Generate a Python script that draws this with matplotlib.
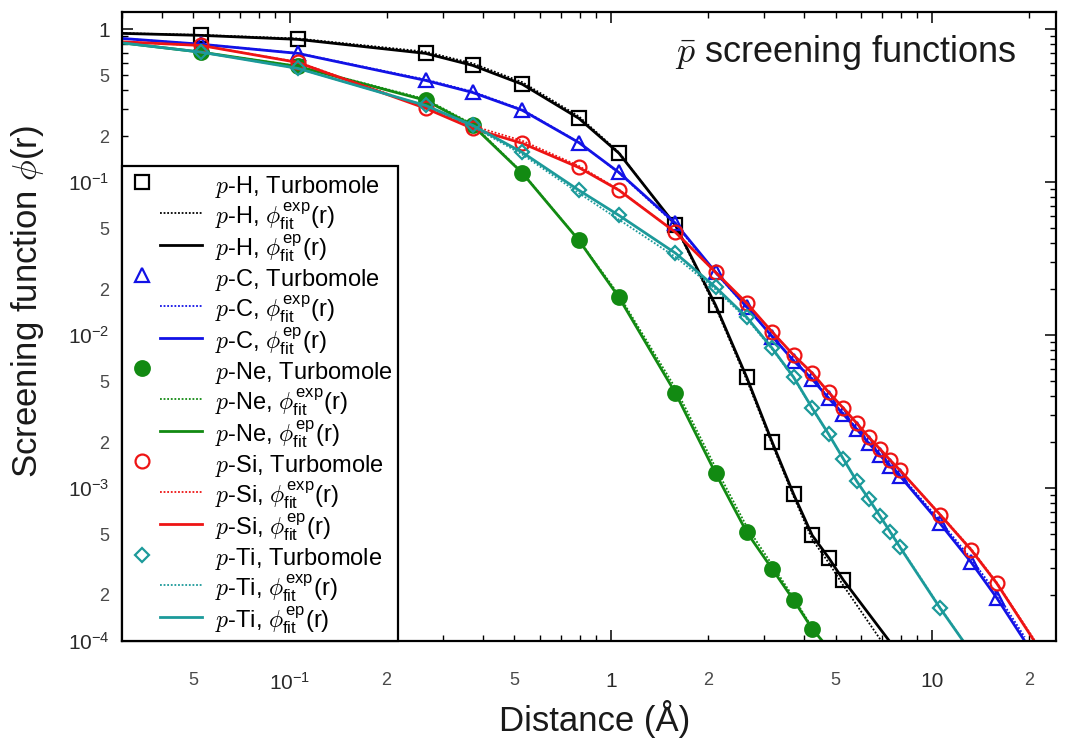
import numpy as np
import matplotlib
matplotlib.use('Agg')
import matplotlib.pyplot as plt
from matplotlib.lines import Line2D
from matplotlib.legend_handler import HandlerLine2D
from matplotlib.ticker import LogLocator, FuncFormatter

plt.rcParams['font.family'] = 'Liberation Sans'
plt.rcParams['mathtext.fontset'] = 'cm'

BOHR = 0.529177  # distances below are in bohr, plotted in Angstrom

# p-H
r_H = [0.1, 0.2, 0.5, 0.7, 1, 1.5, 2, 3, 4, 5, 6, 7, 8, 9, 10]
tm_H = [0.914, 0.861, 0.697, 0.582, 0.438, 0.262, 0.155, 0.0524, 0.0157,
        5.3e-3, 2.0e-3, 9.1e-4, 4.9e-4, 3.5e-4, 2.5e-4]
fit_r_H = [0.0567, 0.1, 0.2, 0.5, 0.7, 1, 1.5, 2, 3, 4, 5, 6, 7, 8, 9, 10, 13.9]
ep_H = [0.942, 0.914, 0.861, 0.697, 0.582, 0.438, 0.262, 0.155, 0.0524, 0.0157,
        5.3e-3, 2.0e-3, 9.1e-4, 4.9e-4, 3.5e-4, 2.5e-4, 1.0e-4]
exp_H = [0.945, 0.92, 0.872, 0.715, 0.60, 0.452, 0.27, 0.157, 0.0515, 0.0152,
         5.1e-3, 1.93e-3, 8.8e-4, 4.6e-4, 3.25e-4, 2.3e-4, 8.4e-5]

# p-C
r_C = [0.1, 0.2, 0.5, 0.7, 1, 1.5, 2, 3, 4, 5, 6, 7, 8, 9, 10, 11, 12, 13, 14, 15,
       20, 25, 30]
tm_C = [0.80, 0.697, 0.464, 0.387, 0.296, 0.182, 0.116, 0.054, 0.0258, 0.0153,
        9.8e-3, 6.8e-3, 5.15e-3, 3.86e-3, 3.04e-3, 2.43e-3, 1.96e-3, 1.64e-3,
        1.39e-3, 1.20e-3, 5.87e-4, 3.27e-4, 1.92e-4]
fit_r_C = [0.0567] + r_C + [36.7]
ep_C = [0.873, 0.80, 0.697, 0.464, 0.387, 0.296, 0.182, 0.116, 0.054, 0.0258,
        0.0153, 9.8e-3, 6.8e-3, 5.15e-3, 3.86e-3, 3.04e-3, 2.43e-3, 1.96e-3,
        1.64e-3, 1.39e-3, 1.20e-3, 5.87e-4, 3.27e-4, 1.92e-4, 1.0e-4]
exp_C = [0.873, 0.80, 0.70, 0.47, 0.392, 0.299, 0.183, 0.115, 0.053, 0.0255,
         0.0152, 9.8e-3, 6.85e-3, 5.2e-3, 3.9e-3, 3.08e-3, 2.47e-3, 2.0e-3,
         1.67e-3, 1.42e-3, 1.23e-3, 6.1e-4, 3.45e-4, 2.05e-4, 1.06e-4]

# p-Ne
r_Ne = [0.1, 0.2, 0.5, 0.7, 1, 1.5, 2, 3, 4, 5, 6, 7, 8]
tm_Ne = [0.71, 0.573, 0.344, 0.236, 0.115, 0.0418, 0.0177, 4.18e-3, 1.25e-3,
         5.15e-4, 2.96e-4, 1.85e-4, 1.2e-4]
fit_r_Ne = [0.0567] + r_Ne + [8.6]
ep_Ne = [0.817, 0.71, 0.573, 0.344, 0.236, 0.115, 0.0418, 0.0177, 4.18e-3,
         1.25e-3, 5.15e-4, 2.96e-4, 1.85e-4, 1.2e-4, 1.0e-4]
exp_Ne = [0.817, 0.71, 0.575, 0.35, 0.24, 0.116, 0.042, 0.0183, 4.5e-3,
          1.36e-3, 5.6e-4, 3.15e-4, 1.92e-4, 1.22e-4, 1.0e-4]

# p-Si
r_Si = r_C
tm_Si = [0.785, 0.608, 0.305, 0.225, 0.180, 0.125, 0.0888, 0.0471, 0.0258,
         0.0162, 0.0105, 7.4e-3, 5.65e-3, 4.23e-3, 3.33e-3, 2.66e-3, 2.15e-3,
         1.80e-3, 1.52e-3, 1.31e-3, 6.7e-4, 3.94e-4, 2.39e-4]
fit_r_Si = [0.0567] + r_Si + [39.3]
ep_Si = [0.83, 0.785, 0.608, 0.305, 0.225, 0.180, 0.125, 0.0888, 0.0471, 0.0258,
         0.0162, 0.0105, 7.4e-3, 5.65e-3, 4.23e-3, 3.33e-3, 2.66e-3, 2.15e-3,
         1.80e-3, 1.52e-3, 1.31e-3, 6.7e-4, 3.94e-4, 2.39e-4, 1.0e-4]
exp_Si = [0.83, 0.785, 0.612, 0.31, 0.234, 0.187, 0.128, 0.0895, 0.047, 0.0257,
          0.0161, 0.0105, 7.4e-3, 5.6e-3, 4.2e-3, 3.32e-3, 2.65e-3, 2.15e-3,
          1.80e-3, 1.52e-3, 1.31e-3, 6.75e-4, 4.0e-4, 2.42e-4, 1.02e-4]

# p-Ti
r_Ti = [0.1, 0.2, 0.5, 0.7, 1, 1.5, 2, 3, 4, 5, 6, 7, 8, 9, 10, 11, 12, 13, 14,
        15, 20]
tm_Ti = [0.71, 0.556, 0.318, 0.236, 0.157, 0.0888, 0.0608, 0.0344, 0.0206,
         0.0131, 8.22e-3, 5.31e-3, 3.33e-3, 2.25e-3, 1.55e-3, 1.11e-3, 8.47e-4,
         6.56e-4, 5.15e-4, 4.11e-4, 1.64e-4]
fit_r_Ti = [0.0567] + r_Ti + [23.6]
ep_Ti = [0.817, 0.71, 0.556, 0.318, 0.236, 0.157, 0.0888, 0.0608, 0.0344, 0.0206,
         0.0131, 8.22e-3, 5.31e-3, 3.33e-3, 2.25e-3, 1.55e-3, 1.11e-3, 8.47e-4,
         6.56e-4, 5.15e-4, 4.11e-4, 1.64e-4, 1.0e-4]
exp_Ti = [0.817, 0.71, 0.556, 0.318, 0.232, 0.152, 0.085, 0.057, 0.0325, 0.0199,
          0.0128, 8.1e-3, 5.25e-3, 3.3e-3, 2.24e-3, 1.55e-3, 1.11e-3, 8.5e-4,
          6.6e-4, 5.2e-4, 4.15e-4, 1.66e-4, 1.0e-4]

species = [
    ('H', r_H, tm_H, fit_r_H, ep_H, exp_H, '#000000', 's', 10.5, 'none'),
    ('C', r_C, tm_C, fit_r_C, ep_C, exp_C, '#1212e6', '^', 10, 'none'),
    ('Ne', r_Ne, tm_Ne, fit_r_Ne, ep_Ne, exp_Ne, '#128a12', 'o', 10.5, '#128a12'),
    ('Si', r_Si, tm_Si, fit_r_Si, ep_Si, exp_Si, '#ee1414', 'o', 10, 'none'),
    ('Ti', r_Ti, tm_Ti, fit_r_Ti, ep_Ti, exp_Ti, '#1c9a9a', 'D', 7.5, 'none'),
]

DOT = (0, (1, 1))


class LeftHandler(HandlerLine2D):
    # marker sits at the left of the sample, line on the right (gnuplot style)
    def create_artists(self, legend, orig_handle, xdescent, ydescent,
                       width, height, fontsize, trans):
        x0 = -xdescent
        y = (height - ydescent) / 2
        line = Line2D([x0 + 0.44 * width, x0 + width], [y, y])
        self.update_prop(line, orig_handle, legend)
        line.set_marker('none')
        mark = Line2D([x0 + 0.2 * width], [y])
        self.update_prop(mark, orig_handle, legend)
        mark.set_linestyle('none')
        line.set_transform(trans)
        mark.set_transform(trans)
        return [line, mark]


fig = plt.figure(figsize=(10.66, 7.49), dpi=100)
ax = fig.add_axes([122 / 1066, 108 / 749, 934 / 1066, 629 / 749])

handles = []
for name, r, tm, fr, ep, ex, color, marker, ms, face in species:
    ax.plot(np.array(r) * BOHR, tm, ls='none', marker=marker, ms=ms,
            mfc=face, mec=color, mew=1.6)
    ax.plot(np.array(fr) * BOHR, ex, ls=DOT, lw=1.3, color=color)
    ax.plot(np.array(fr) * BOHR, ep, ls='-', lw=2.0, color=color)
    handles.append(Line2D([], [], ls='none', marker=marker, ms=ms, mfc=face,
                          mec=color, mew=1.6, label=rf'$p$-{name}, Turbomole'))
    handles.append(Line2D([], [], ls=DOT, lw=1.3, color=color,
                          label=rf'$p$-{name}, $\phi_{{\mathdefault{{fit}}}}^{{\mathdefault{{exp}}}}$(r)'))
    handles.append(Line2D([], [], ls='-', lw=2.0, color=color,
                          label=rf'$p$-{name}, $\phi_{{\mathdefault{{fit}}}}^{{\mathdefault{{ep}}}}$(r)'))

ax.set_xscale('log')
ax.set_yscale('log')
ax.set_xlim(0.030, 24.3)
ax.set_ylim(1e-4, 1.3)


def major_fmt(v, pos):
    if abs(v - 1) < 1e-9:
        return '1'
    if abs(v - 10) < 1e-9:
        return '10'
    return r'$\mathdefault{10^{%d}}$' % round(np.log10(v))


def minor_fmt(v, pos):
    m = round(v / 10 ** np.floor(np.log10(v) + 1e-9))
    return str(m) if m in (2, 5) else ''


for axis in (ax.xaxis, ax.yaxis):
    axis.set_major_locator(LogLocator(base=10, numticks=20))
    axis.set_minor_locator(LogLocator(base=10, subs=np.arange(2, 10), numticks=20))
    axis.set_major_formatter(FuncFormatter(major_fmt))
    axis.set_minor_formatter(FuncFormatter(minor_fmt))

ax.tick_params(which='both', direction='in', top=True, right=True)
ax.tick_params(which='major', length=8, width=1.1, labelsize=15, labelcolor='#2a2a2a')
ax.tick_params(which='minor', length=4.5, width=1.0, labelsize=13, labelcolor='#4a4a4a')
ax.tick_params(axis='x', which='both', pad=22)
ax.tick_params(axis='y', which='both', pad=9)
for s in ax.spines.values():
    s.set_linewidth(1.6)

ax.set_xlabel('Distance (Å)', fontsize=25, color='#1a1a1a')
ax.set_ylabel(r'Screening function $\phi$(r)', fontsize=25, color='#1a1a1a')
ax.xaxis.set_label_coords(0.506, -0.094)
ax.yaxis.set_label_coords(-0.081, 0.54)

ax.text(0.958, 0.935, r'$\bar{p}$ screening functions', transform=ax.transAxes,
        ha='right', va='center', fontsize=26, color='#1a1a1a')

leg = ax.legend(handles=handles, handler_map={Line2D: LeftHandler()},
                loc='lower left', bbox_to_anchor=(0, 0), borderaxespad=0,
                fontsize=17, handlelength=3.2, handletextpad=0.55,
                handleheight=1.45, labelspacing=0.02, borderpad=0.2,
                fancybox=False, framealpha=1, edgecolor='black')
leg.get_frame().set_linewidth(1.6)

fig.savefig('out.png', dpi=100)
